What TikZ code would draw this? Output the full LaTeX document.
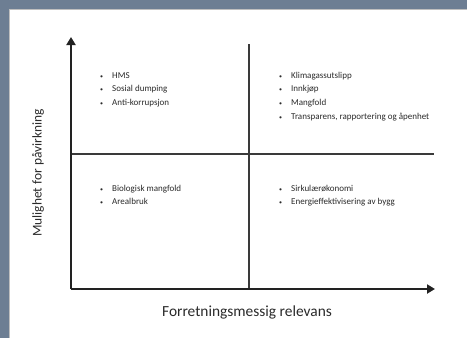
\documentclass[tikz,border=0pt]{standalone}
\usepackage{fontspec}
\setmainfont{Carlito}
\usetikzlibrary{arrows.meta}
\definecolor{framebg}{HTML}{6D7E93}
\definecolor{axiscol}{HTML}{222222}
\definecolor{divcol}{HTML}{3A3A3A}
\definecolor{txtcol}{HTML}{2A2A2A}
\newcommand{\qlist}[1]{{\fontsize{9}{13.9}\selectfont\begin{tabular}[t]{@{}p{7pt}@{\hspace{5pt}}l@{}}#1\end{tabular}}}
\newcommand{\bul}{{\fontsize{6}{6}\selectfont\textbullet}}
\begin{document}
\begin{tikzpicture}[x=1pt,y=-1pt,
  axisline/.style={line width=2pt,draw=axiscol,-{Triangle[length=8pt,width=9pt]}},
  divline/.style={line width=1.5pt,draw=divcol},
  listnode/.style={anchor=base west,inner sep=0pt,text=txtcol},
  axlabel/.style={inner sep=0pt,text=txtcol}]
\useasboundingbox (0,0) rectangle (467,338);
\fill[framebg] (0,0) rectangle (467,338);
\fill[black!25] (9,9) rectangle (467,338);
\fill[white] (10,10) rectangle (467,338);
% coordinates
\coordinate (O) at (71,289);
\coordinate (ytip) at (71,38);
\coordinate (xtip) at (434,289);
\coordinate (vtop) at (249,44);
\coordinate (vbot) at (249,289);
\coordinate (hl) at (71,154);
\coordinate (hr) at (434,154);
% dividers
\draw[divline] (vtop) -- (vbot);
\draw[divline] (hl) -- (hr);
% axes
\draw[axisline,shorten >=-1pt] (O) -- (ytip);
\draw[axisline,shorten >=-1pt] (O) -- (xtip);
% labels
\node[axlabel,font=\fontsize{15.4}{18}\selectfont] (xlab) at (247,312) {Forretningsmessig relevans};
\node[axlabel,rotate=90,font=\fontsize{13.4}{16}\selectfont] (ylab) at (38,173) {Mulighet for påvirkning};
% quadrant lists
\node[listnode] (q1) at (100,78) {\qlist{\bul & HMS\\ \bul & Sosial dumping\\ \bul & Anti-korrupsjon}};
\node[listnode] (q2) at (279,78) {\qlist{\bul & Klimagassutslipp\\ \bul & Innkjøp\\ \bul & Mangfold\\ \bul & Transparens, rapportering og åpenhet}};
\node[listnode] (q3) at (100,191) {\qlist{\bul & Biologisk mangfold\\ \bul & Arealbruk}};
\node[listnode] (q4) at (279,191) {\qlist{\bul & Sirkulærøkonomi\\ \bul & Energieffektivisering av bygg}};
\end{tikzpicture}
\end{document}
